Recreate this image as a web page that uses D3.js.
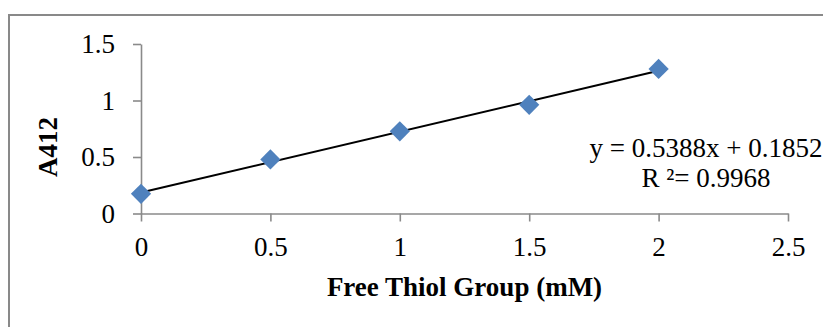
<!DOCTYPE html>
<html>
<head>
<meta charset="utf-8">
<script src="https://cdn.jsdelivr.net/npm/d3@7"></script>
<style>
  html, body { margin: 0; padding: 0; background: #fff; overflow: hidden; }
  svg { display: block; font-family: "Liberation Serif", "Times New Roman", serif; }
</style>
</head>
<body>
<svg id="chart" width="823" height="327"></svg>
<script>
// Thiol standard curve: concentration vs absorbance at 412 nm
const concentrations = [0, 0.5, 1, 1.5, 2];
const absorbance = [0.174, 0.478, 0.727, 0.962, 1.279];

const xTicks = [0, 0.5, 1, 1.5, 2, 2.5];
const yTicks = [0, 0.5, 1, 1.5];

// Linear fit shown on the chart
const fitSlope = 0.5388;
const fitIntercept = 0.1852;
const fitR2 = 0.9968;

const svg = d3.select("#chart");

// outer chart frame (runs past the right and bottom edges)
svg.append("rect")
  .attr("x", 9).attr("y", 15)
  .attr("width", 900).attr("height", 400)
  .attr("fill", "none")
  .attr("stroke", "#898989")
  .attr("stroke-width", 2);

const x = d3.scaleLinear().domain([0, 2.5]).range([141, 788]);
const y = d3.scaleLinear().domain([0, 1.5]).range([213.5, 44]);

const axisColor = "#8a8a8a";
const tickFont = 27;

const xAxis = svg.append("g")
  .attr("transform", `translate(0,${y(0)})`)
  .call(d3.axisBottom(x).tickValues(xTicks).tickFormat(d3.format("~g"))
    .tickSizeInner(8).tickSizeOuter(0).tickPadding(15));

const yAxis = svg.append("g")
  .attr("transform", `translate(${x(0)},0)`)
  .call(d3.axisLeft(y).tickValues(yTicks).tickFormat(d3.format("~g"))
    .tickSizeInner(8).tickSizeOuter(0).tickPadding(18));

[xAxis, yAxis].forEach(g => {
  g.select(".domain").attr("stroke", axisColor).attr("stroke-width", 1.6);
  g.selectAll(".tick line").attr("stroke", axisColor).attr("stroke-width", 1.6);
  g.selectAll(".tick text")
    .attr("fill", "#000")
    .style("font-family", "'Liberation Serif', 'Times New Roman', serif")
    .style("font-size", tickFont + "px");
});

// trendline from the fitted equation
const fitX = [concentrations[0], concentrations[concentrations.length - 1]];
svg.append("line")
  .attr("x1", x(fitX[0])).attr("y1", y(fitIntercept + fitSlope * fitX[0]))
  .attr("x2", x(fitX[1])).attr("y2", y(fitIntercept + fitSlope * fitX[1]))
  .attr("stroke", "#000")
  .attr("stroke-width", 2);

// diamond markers
const diamond = d3.symbol().type(d3.symbolSquare).size(205);
svg.append("g")
  .selectAll("path")
  .data(concentrations.map((c, i) => ({ c, a: absorbance[i] })))
  .join("path")
  .attr("d", diamond)
  .attr("transform", d => `translate(${x(d.c)},${y(d.a)}) rotate(45)`)
  .attr("fill", "#4f81bd");

// axis titles
svg.append("text")
  .attr("x", (x(0) + x(2.5)) / 2)
  .attr("y", 296)
  .attr("text-anchor", "middle")
  .style("font-size", "27px")
  .style("font-weight", "bold")
  .text("Free Thiol Group (mM)");

svg.append("text")
  .attr("transform", "translate(57,147) rotate(-90)")
  .attr("text-anchor", "middle")
  .style("font-size", "27px")
  .style("font-weight", "bold")
  .text("A412");

// equation label
const eq = svg.append("text")
  .attr("text-anchor", "middle")
  .style("font-size", "27px");
eq.append("tspan").attr("x", 706).attr("y", 157)
  .text(`y = ${fitSlope}x + ${fitIntercept}`);
eq.append("tspan").attr("x", 706).attr("y", 187)
  .text(`R ²= ${fitR2}`);
</script>
</body>
</html>
